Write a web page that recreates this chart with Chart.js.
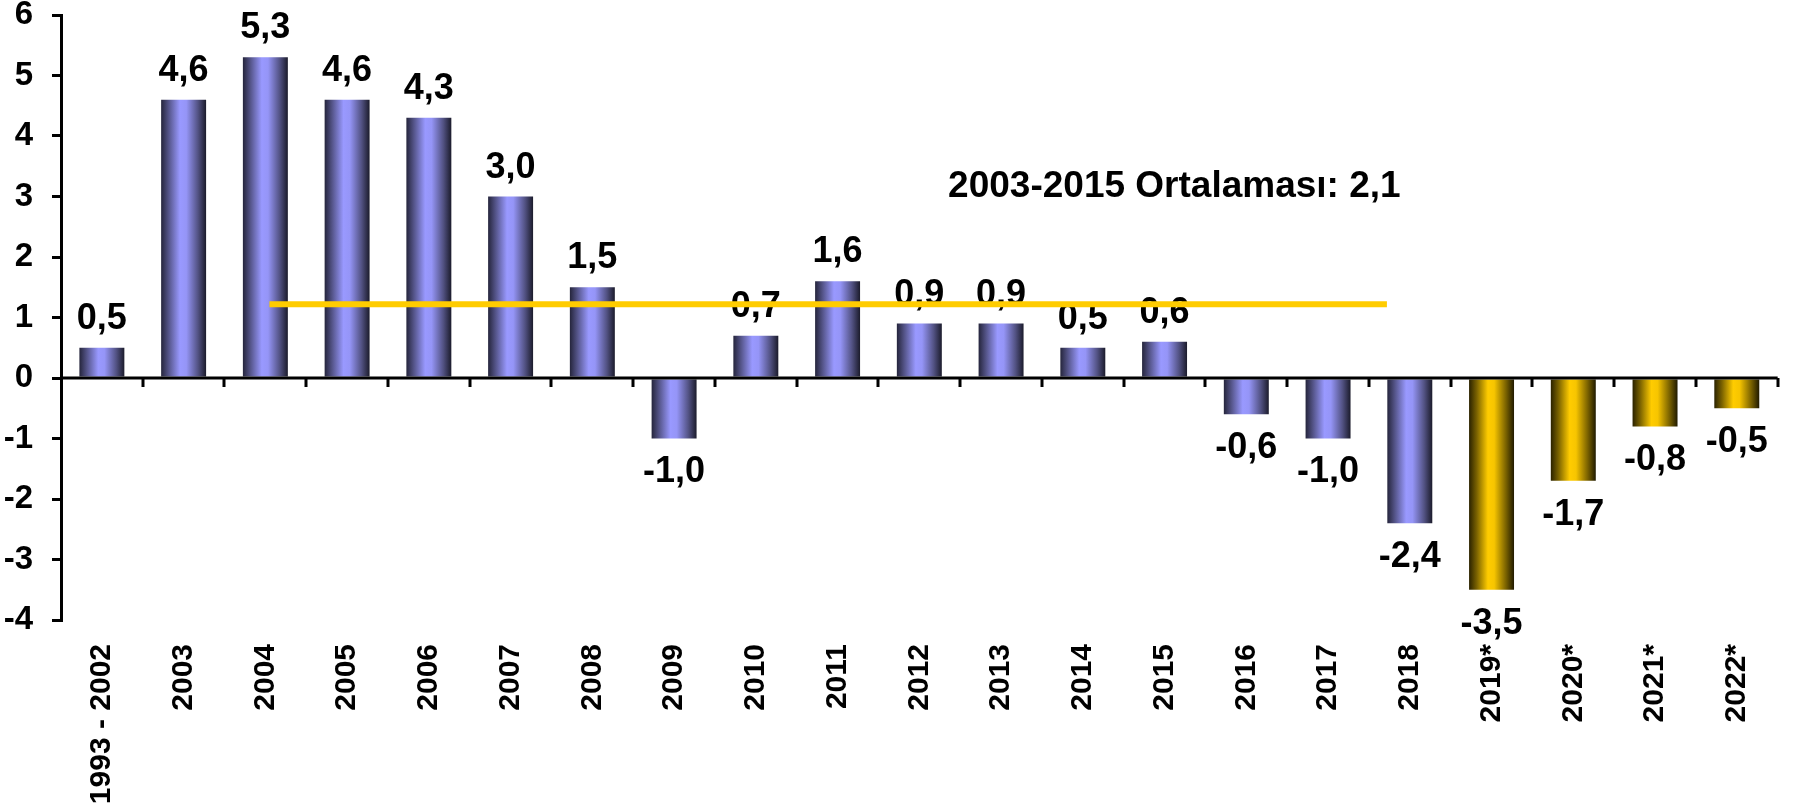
<!DOCTYPE html>
<html>
<head>
<meta charset="utf-8">
<script src="https://cdn.jsdelivr.net/npm/chart.js@4.4.1/dist/chart.umd.min.js"></script>
<style>
  html, body { margin: 0; padding: 0; background: #fff; }
</style>
</head>
<body>
<canvas id="growthChart" width="1797" height="803"></canvas>
<script>
  const categories = ['1993 - 2002', '2003', '2004', '2005', '2006', '2007', '2008', '2009', '2010',
    '2011', '2012', '2013', '2014', '2015', '2016', '2017', '2018', '2019*', '2020*', '2021*', '2022*'];
  const values = [0.5, 4.6, 5.3, 4.6, 4.3, 3.0, 1.5, -1.0, 0.7, 1.6, 0.9, 0.9, 0.5, 0.6,
    -0.6, -1.0, -2.4, -3.5, -1.7, -0.8, -0.5];
  const yMin = -4;
  const yMax = 6;
  // average line as drawn in the picture (category index, value)
  const averageLine = [{ x: 2.05, y: 1.22 }, { x: 15.72, y: 1.22 }];
  const averageLabel = '2003-2015 Ortalaması: 2,1';

  const FONT = '"Liberation Sans", Arial, sans-serif';
  const BAR_PCT = 0.55;

  function barFill(c) {
    const chart = c.chart;
    const xs = chart.scales.x;
    const forecast = categories[c.dataIndex].includes('*');
    if (!chart.chartArea || !xs) return forecast ? '#ffcc00' : '#9999ff';
    const center = xs.getPixelForValue(c.dataIndex);
    const half = (xs.width / categories.length) * BAR_PCT / 2;
    const g = chart.ctx.createLinearGradient(center - half, 0, center + half, 0);
    const stops = forecast
      ? ['#2a2200', '#7a6200', '#ffcc00', '#f7c500', '#7a6200', '#201a00']
      : ['#25253c', '#55558a', '#9999ff', '#9595f7', '#525283', '#1b1b2b'];
    [0, 0.17, 0.42, 0.56, 0.82, 1].forEach((p, i) => g.addColorStop(p, stops[i]));
    return g;
  }

  const decorations = {
    id: 'decorations',
    afterDatasetDraw(chart, args) {
      if (args.meta.type !== 'bar') return;
      const { ctx, chartArea } = chart;
      const x = chart.scales.x, y = chart.scales.y;
      const zero = y.getPixelForValue(0);
      ctx.save();
      ctx.strokeStyle = '#000';
      ctx.lineWidth = 3;
      ctx.beginPath();
      ctx.moveTo(chartArea.left, zero);
      ctx.lineTo(chartArea.right, zero);
      for (let k = 1; k <= categories.length; k++) {
        const px = Math.round(x.getPixelForValue(k - 0.5));
        ctx.moveTo(px, zero);
        ctx.lineTo(px, zero + 9);
      }
      ctx.stroke();

      const size = 36;
      ctx.fillStyle = '#000';
      ctx.font = 'bold ' + size + 'px ' + FONT;
      ctx.textAlign = 'center';
      ctx.textBaseline = 'alphabetic';
      args.meta.data.forEach((bar, i) => {
        const v = values[i];
        const txt = v.toFixed(1).replace('.', ',');
        if (v >= 0) ctx.fillText(txt, bar.x, bar.y - 19);
        else ctx.fillText(txt, bar.x, bar.y + 18 + size * 0.72);
      });
      ctx.restore();
    },
    afterDraw(chart) {
      const ctx = chart.ctx;
      const x = chart.scales.x, y = chart.scales.y;
      ctx.save();
      ctx.fillStyle = '#000';
      ctx.font = 'bold 37px ' + FONT;
      ctx.textAlign = 'center';
      ctx.textBaseline = 'alphabetic';
      ctx.fillText(averageLabel, x.getPixelForValue(13.12), y.getPixelForValue(3.0));
      ctx.restore();
    }
  };

  new Chart(document.getElementById('growthChart'), {
    type: 'bar',
    data: {
      labels: categories,
      datasets: [{
        data: values,
        backgroundColor: barFill,
        borderWidth: 0,
        grouped: false,
        categoryPercentage: 1,
        barPercentage: BAR_PCT,
        order: 1
      }, {
        type: 'line',
        data: averageLine,
        xAxisID: 'x2',
        borderColor: '#ffcc00',
        borderWidth: 6,
        borderCapStyle: 'butt',
        pointRadius: 0,
        fill: false,
        order: 0
      }]
    },
    options: {
      responsive: false,
      animation: false,
      layout: { padding: { top: 15, right: 9, left: 0, bottom: 0 } },
      plugins: { legend: { display: false }, tooltip: { enabled: false } },
      scales: {
        x: {
          grid: { display: false, drawTicks: false },
          border: { display: false },
          ticks: {
            color: '#000',
            font: { family: FONT, size: 30, weight: 'bold' },
            autoSkip: false,
            minRotation: 90,
            maxRotation: 90,
            padding: 24
          },
          afterFit(scale) { scale.height = 183; }
        },
        x2: {
          type: 'linear',
          display: false,
          offset: false,
          grid: { offset: false },
          min: -0.5,
          max: categories.length - 0.5
        },
        y: {
          min: yMin,
          max: yMax,
          ticks: {
            stepSize: 1,
            color: '#000',
            font: { family: FONT, size: 33, weight: 'bold' },
            padding: 19
          },
          grid: { drawOnChartArea: false, drawTicks: true, tickLength: 9, color: '#000', lineWidth: 3 },
          border: { display: true, color: '#000', width: 3 },
          afterFit(scale) {
            scale.width = 61;
            scale.paddingTop = 0;
            scale.paddingBottom = 0;
          }
        }
      }
    },
    plugins: [decorations]
  });
</script>
</body>
</html>
